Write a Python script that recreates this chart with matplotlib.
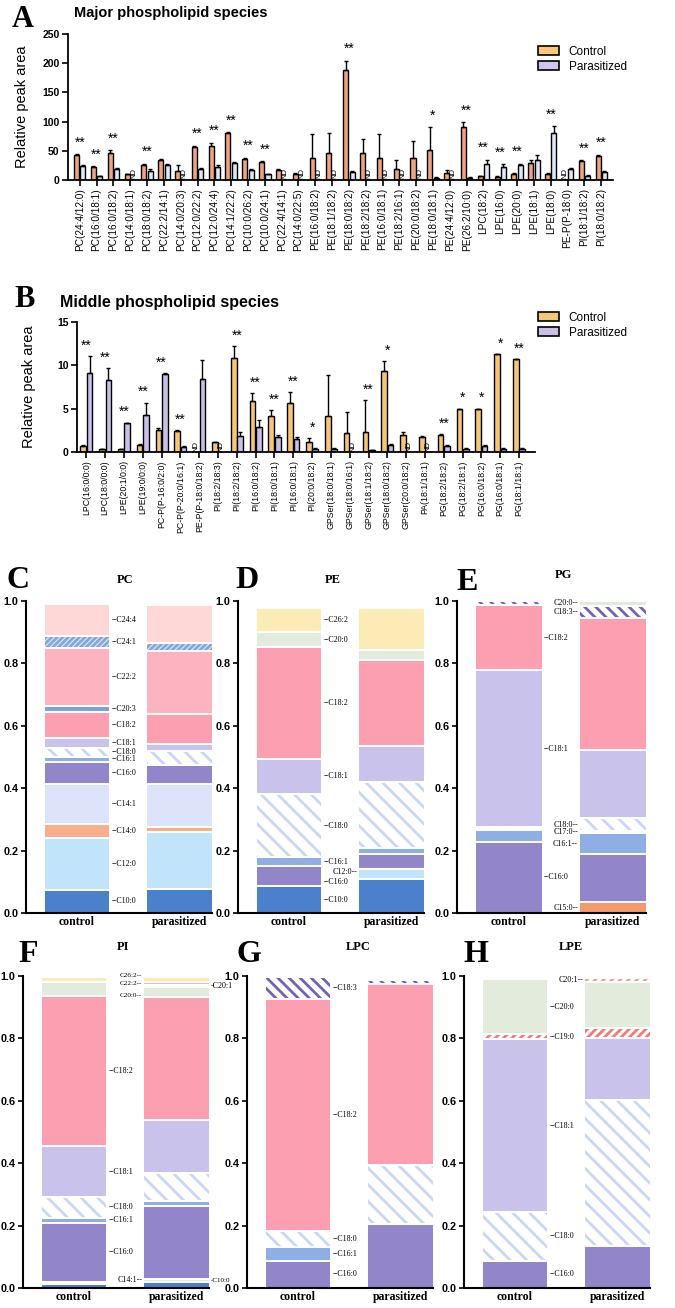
import numpy as np
import matplotlib.pyplot as plt
from matplotlib.patches import Patch

plt.rcParams['font.family'] = ['Liberation Sans', 'DejaVu Sans']
plt.rcParams['hatch.linewidth'] = 2.0

W, H = 675, 1308
nan = np.nan

# ---------------- panel A: major species ----------------
a_labels = ['PC(24:4/12:0)', 'PC(16:0/18:1)', 'PC(16:0/18:2)', 'PC(14:0/18:1)', 'PC(18:0/18:2)',
            'PC(22:2/14:1)', 'PC(14:0/20:3)', 'PC(12:0/22:2)', 'PC(12:0/24:4)', 'PC(14:1/22:2)',
            'PC(10:0/26:2)', 'PC(10:0/24:1)', 'PC(22:4/14:1)', 'PC(14:0/22:5)', 'PE(16:0/18:2)',
            'PE(18:1/18:2)', 'PE(18:0/18:2)', 'PE(18:2/18:2)', 'PE(16:0/18:1)', 'PE(18:2/16:1)',
            'PE(20:0/18:2)', 'PE(18:0/18:1)', 'PE(24:4/12:0)', 'PE(26:2/10:0)', 'LPC(18:2)',
            'LPE(16:0)', 'LPE(20:0)', 'LPE(18:1)', 'LPE(18:0)', 'PE-P(P-18:0)', 'PI(18:1/18:2)',
            'PI(18:0/18:2)']
a_ctrl = [42, 22, 47, 10, 26, 34, 16, 57, 58, 80, 36, 30, 17, 11, 38, 46, 188, 47, 37, 19,
          37, 51, 12, 91, 6, 5, 11, 29, 10, nan, 32, 41]
a_ctrl_err = [2, 2, 4, 1, 2, 2, 9, 2, 6, 2, 2, 2, 1, 1, 40, 35, 16, 24, 41, 15,
              29, 39, 5, 8, 1, 1, 1, 6, 2, 0, 2, 2]
a_para = [24, 6, 18, nan, 16, 25, nan, 19, 23, 29, 17, 10, nan, nan, nan, nan, 13, nan, nan, nan,
          nan, 4, nan, 4, 27, 22, 25, 35, 81, 19, 7, 14]
a_para_err = [2, 1, 2, 0, 2, 2, 0, 2, 2, 1, 2, 1, 0, 0, 0, 0, 2, 0, 0, 0,
              0, 1, 0, 1, 8, 5, 3, 7, 11, 2, 1, 2]
a_sig = ['**', '**', '**', '', '**', '', '', '**', '**', '**', '**', '**', '', '', '', '',
         '**', '', '', '', '', '*', '', '**', '**', '**', '**', '', '**', '', '**', '**']

# ---------------- panel B: middle species ----------------
b_labels = ['LPC(16:0/0:0)', 'LPC(18:0/0:0)', 'LPE(20:1/0:0)', 'LPE(19:0/0:0)', 'PC-P(P-16:0/2:0)',
            'PC-P(P-20:0/16:1)', 'PE-P(P-18:0/18:2)', 'PI(18:2/18:3)', 'PI(18:2/18:2)',
            'PI(16:0/18:2)', 'PI(18:0/18:1)', 'PI(16:0/18:1)', 'PI(20:0/18:2)', 'GPSer(18:0/18:1)',
            'GPSer(18:0/16:1)', 'GPSer(18:1/18:2)', 'GPSer(18:0/18:2)', 'GPSer(20:0/18:2)',
            'PA(18:1/18:1)', 'PG(18:2/18:2)', 'PG(18:2/18:1)', 'PG(16:0/18:2)', 'PG(16:0/18:1)',
            'PG(18:1/18:1)']
b_ctrl = [0.7, 0.3, 0.3, 0.8, 2.5, 2.4, nan, 1.1, 10.8, 5.9, 4.2, 5.7, 1.1, 4.2, 2.2, 2.3,
          9.3, 2.0, 1.7, 2.0, 5.0, 5.0, 11.3, 10.7]
b_ctrl_err = [0.1, 0.05, 0.05, 0.15, 0.3, 0.15, 0, 0.1, 1.4, 0.9, 0.6, 1.2, 0.5, 4.7, 2.4, 3.7,
              1.2, 0.3, 0.1, 0.1, 0, 0, 0, 0]
b_para = [9.1, 8.3, 3.3, 4.3, 9.0, 0.6, 8.4, nan, 1.9, 2.9, 1.7, 1.5, 0.4, 0.4, nan, 0.2,
          0.85, nan, nan, 0.7, 0.4, 0.7, 0.4, 0.4]
b_para_err = [2.0, 1.4, 0.1, 1.4, 0.1, 0.05, 2.2, 0, 0.4, 0.8, 0.3, 0.2, 0.05, 0.05, 0, 0.05,
              0.1, 0, 0, 0.1, 0.05, 0.1, 0.05, 0.05]
b_sig = ['**', '**', '**', '**', '**', '**', '', '', '**', '**', '**', '**', '*', '', '', '**',
         '*', '', '', '**', '*', '*', '*', '**']

# ---------------- panels C-H: fatty acid composition ----------------
pc_species = ['C10:0', 'C12:0', 'C14:0', 'C14:1', 'C16:0', 'C16:1', 'C18:0', 'C18:1', 'C18:2',
              'C20:3', 'C22:2', 'C24:1', 'C24:4']
pc_ctrl = [0.074, 0.167, 0.043, 0.129, 0.071, 0.016, 0.030, 0.032, 0.082, 0.018, 0.188, 0.038, 0.102]
pc_para = [0.078, 0.182, 0.016, 0.138, 0.061, 0.0, 0.045, 0.023, 0.094, 0.0, 0.203, 0.026, 0.120]

pe_species = ['C10:0', 'C12:0', 'C16:0', 'C16:1', 'C18:0', 'C18:1', 'C18:2', 'C20:0', 'C26:2']
pe_ctrl = [0.085, 0.0, 0.065, 0.028, 0.202, 0.115, 0.358, 0.047, 0.079]
pe_para = [0.110, 0.030, 0.050, 0.017, 0.214, 0.113, 0.278, 0.032, 0.132]

pg_species = ['C15:0', 'C16:0', 'C16:1', 'C17:0', 'C18:0', 'C18:1', 'C18:2', 'C18:3', 'C20:0']
pg_ctrl = [0.0, 0.229, 0.037, 0.004, 0.006, 0.502, 0.210, 0.011, 0.0]
pg_para = [0.035, 0.153, 0.067, 0.008, 0.040, 0.221, 0.420, 0.041, 0.015]

pi_species = ['C10:0', 'C14:1', 'C16:0', 'C16:1', 'C18:0', 'C18:1', 'C18:2', 'C20:0', 'C20:1',
              'C22:2', 'C26:2']
pi_ctrl = [0.014, 0.006, 0.188, 0.017, 0.067, 0.162, 0.481, 0.045, 0.0, 0.0, 0.018]
pi_para = [0.020, 0.010, 0.233, 0.016, 0.088, 0.171, 0.396, 0.030, 0.008, 0.010, 0.016]

lpc_species = ['C16:0', 'C16:1', 'C18:0', 'C18:2', 'C18:3']
lpc_ctrl = [0.087, 0.045, 0.050, 0.745, 0.070]
lpc_para = [0.205, 0.0, 0.190, 0.580, 0.012]

lpe_species = ['C16:0', 'C18:0', 'C18:1', 'C19:0', 'C20:0', 'C20:1']
lpe_ctrl = [0.088, 0.155, 0.555, 0.015, 0.177, 0.0]
lpe_para = [0.134, 0.468, 0.200, 0.030, 0.148, 0.014]

fa_colors = {'C10:0': '#4a80cc', 'C12:0': '#c2e4fb', 'C14:0': '#f9ae8c', 'C14:1': '#dde3f8',
             'C15:0': '#f59a6a', 'C16:0': '#9385c9', 'C16:1': '#8eafe3', 'C17:0': '#fbd0d0',
             'C18:0': '#c9d7f4', 'C18:1': '#c9c3eb', 'C18:2': '#fb9fb1', 'C18:3': '#7462b4',
             'C19:0': '#f07a7a', 'C20:0': '#e3ecdc', 'C20:1': '#f5a27e', 'C20:3': '#7aa2dd',
             'C22:2': '#fdb3c0', 'C24:1': '#86a7dc', 'C24:4': '#fdd8d6', 'C26:2': '#fdebb5'}
fa_hatch = {'C18:0': '\\\\', 'C24:1': '//////', 'C18:3': '\\\\\\', 'C19:0': '////', 'C20:1': '////'}
fa_hatch_bg = {'C24:1': '#dae5f7'}

fig = plt.figure(figsize=(W / 100, H / 100), dpi=100)


def px_axes(l, t, r, b):
    return fig.add_axes([l / W, 1 - b / H, (r - l) / W, (b - t) / H])


def ftext(x, y, s, **kw):
    fig.text(x / W, 1 - y / H, s, **kw)


def grouped(ax, labels, ctrl, cerr, para, perr, sig, c_col, p_col, off, w, ymax, step, star_pad, nd_pad):
    x = np.arange(len(labels))
    ctrl, cerr, para, perr = map(np.asarray, (ctrl, cerr, para, perr))
    for vals, err, sgn, col in [(ctrl, cerr, -1, c_col), (para, perr, 1, p_col)]:
        m = ~np.isnan(vals)
        ax.bar(x[m] + sgn * off, vals[m], w, color=col, edgecolor='black', linewidth=1.0, zorder=2)
        ax.errorbar(x[m] + sgn * off, vals[m], yerr=[np.zeros(m.sum()), err[m]], fmt='none',
                    ecolor='black', elinewidth=1.0, capsize=1.6, capthick=1.0, zorder=3)
        for i in x[~m]:
            ax.text(i + sgn * off, nd_pad, 'ND', rotation=90, fontsize=5.5, ha='center', va='bottom')
    for i, s in enumerate(sig):
        if s:
            top = np.nanmax([ctrl[i] + cerr[i], para[i] + perr[i]])
            ax.text(i, top + star_pad, s, ha='center', va='bottom', fontsize=10)
    ax.set_xlim(-0.7, len(labels) - 0.3)
    ax.set_ylim(0, ymax)
    ax.set_yticks(np.arange(0, ymax + 0.01, step))
    ax.set_xticks(x)
    ax.set_xticklabels(labels, rotation=90, fontsize=7.2)
    for t in ax.get_yticklabels():
        t.set_fontweight('bold')
        t.set_fontsize(7.5)
    ax.spines[['top', 'right']].set_visible(False)
    ax.spines[['left', 'bottom']].set_linewidth(1.3)
    ax.tick_params(axis='both', direction='out', length=4, width=1.2, pad=2)


# panel A
axA = px_axes(68, 34, 613, 180)
grouped(axA, a_labels, a_ctrl, a_ctrl_err, a_para, a_para_err, a_sig,
        '#f0a47e', '#dfe7f4', 0.19, 0.3, 250, 50, 8, 1)
axA.set_xlim(-0.7, 31.7)
axA.set_ylabel('Relative peak area', fontsize=10.5, labelpad=10)
ftext(12, 27, 'A', fontsize=22, fontweight='bold', family='Liberation Serif')
ftext(74, 13, 'Major phospholipid species', fontsize=10.5, fontweight='bold', va='center')
fig.legend(handles=[Patch(facecolor='#f7c77e', edgecolor='black', linewidth=1.2, label='Control'),
                    Patch(facecolor='#cfc6ea', edgecolor='black', linewidth=1.2, label='Parasitized')],
           loc='upper left', bbox_to_anchor=(532 / W, 1 - 40 / H), frameon=False, fontsize=8.5,
           handlelength=1.8, handleheight=0.8, labelspacing=0.25, borderpad=0, handletextpad=0.8)

# panel B
axB = px_axes(77, 322, 535, 452)
grouped(axB, b_labels, b_ctrl, b_ctrl_err, b_para, b_para_err, b_sig,
        '#f6c676', '#c9c0e8', 0.17, 0.3, 15, 5, 0.4, 0.05)
axB.set_xlim(-0.5, 23.85)
axB.tick_params(axis='x', labelsize=6.3)
axB.set_ylabel('Relative peak area', fontsize=10.5, labelpad=15)
ftext(14, 307, 'B', fontsize=22, fontweight='bold', family='Liberation Serif')
ftext(60, 302, 'Middle phospholipid species', fontsize=11.5, fontweight='bold', va='center')
fig.legend(handles=[Patch(facecolor='#f6c676', edgecolor='black', linewidth=1.2, label='Control'),
                    Patch(facecolor='#c9c0e8', edgecolor='black', linewidth=1.2, label='Parasitized')],
           loc='upper left', bbox_to_anchor=(532 / W, 1 - 306 / H), frameon=False, fontsize=8.5,
           handlelength=1.8, handleheight=0.8, labelspacing=0.25, borderpad=0, handletextpad=0.8)


def stacked(ax, species, ctrl, para, labels, title, letter, title_x, title_y, letter_x, letter_y):
    bw = 0.65
    bases = []
    for j, vals in enumerate([ctrl, para]):
        vals = np.asarray(vals)
        base = np.concatenate([[0], np.cumsum(vals)[:-1]])
        bases.append(base)
        for sp, v, b0 in zip(species, vals, base):
            if v <= 0:
                continue
            if sp in fa_hatch:
                ax.bar(j, v, bw, bottom=b0, color=fa_hatch_bg.get(sp, 'white'),
                       edgecolor=fa_colors[sp], hatch=fa_hatch[sp], linewidth=0, clip_on=False)
                ax.bar(j, v, bw, bottom=b0, fill=False, edgecolor='white', linewidth=1.4, clip_on=False)
            else:
                ax.bar(j, v, bw, bottom=b0, color=fa_colors[sp], edgecolor='white',
                       linewidth=1.4, clip_on=False)
    for item in labels:
        sp, side = item[0], item[1]
        dy = item[2] if len(item) > 2 else 0
        fs = item[3] if len(item) > 3 else 5.8
        k = species.index(sp)
        lkw = dict(va='center', fontsize=fs, family='Liberation Serif')
        if side == 'c':
            y = bases[0][k] + ctrl[k] / 2 + dy
            ax.text(bw / 2 + 0.01, y, '--' + sp, ha='left', **lkw)
        elif side == 'p':
            y = bases[1][k] + para[k] / 2 + dy
            ax.text(1 - bw / 2 - 0.01, y, sp + '--', ha='right', **lkw)
        else:
            y = bases[1][k] + para[k] / 2 + dy
            ax.text(1 + bw / 2 + 0.01, y, '-' + sp, ha='left', **lkw)
    ax.set_xlim(-0.5, 1.32)
    ax.set_ylim(0, 1.0)
    ax.set_yticks(np.arange(0, 1.01, 0.2))
    ax.set_yticklabels(['%.1f' % v for v in np.arange(0, 1.01, 0.2)], fontsize=7.8, fontweight='bold')
    ax.set_xticks([0, 1])
    ax.set_xticklabels(['control', 'parasitized'], fontsize=8.5, fontweight='bold',
                       family='Liberation Serif')
    ax.tick_params(axis='x', length=0, pad=2)
    ax.tick_params(axis='y', direction='out', length=3.5, width=1.2, pad=2)
    ax.spines[['top', 'right']].set_visible(False)
    ax.spines[['left', 'bottom']].set_linewidth(1.5)
    ftext(title_x, title_y, title, fontsize=9, fontweight='bold', family='Liberation Serif',
          ha='center', va='center')
    ftext(letter_x, letter_y, letter, fontsize=23, fontweight='bold', family='Liberation Serif')


c_lab = [(s, 'c') for s in pc_species]
d_lab = [('C26:2', 'c'), ('C20:0', 'c'), ('C18:2', 'c'), ('C18:1', 'c'), ('C18:0', 'c'),
         ('C16:1', 'c'), ('C16:0', 'c', -0.017), ('C12:0', 'p', 0.008), ('C10:0', 'c')]
e_lab = [('C18:2', 'c'), ('C18:1', 'c'), ('C16:0', 'c'), ('C20:0', 'p'), ('C18:3', 'p'),
         ('C18:0', 'p'), ('C17:0', 'p'), ('C16:1', 'p'), ('C15:0', 'p')]
f_lab = [('C18:2', 'c'), ('C18:1', 'c'), ('C18:0', 'c'), ('C16:1', 'c'), ('C16:0', 'c'),
         ('C26:2', 'p', 0.012, 5.2), ('C22:2', 'p', -0.001, 5.2), ('C20:0', 'p', -0.01, 5.2),
         ('C14:1', 'p'), ('C20:1', 'r'), ('C10:0', 'r', 0.014, 5.0)]
g_lab = [('C18:3', 'c'), ('C18:2', 'c'), ('C18:0', 'c'), ('C16:1', 'c'), ('C16:0', 'c')]
h_lab = [('C20:1', 'p'), ('C20:0', 'c'), ('C19:0', 'c'), ('C18:1', 'c'), ('C18:0', 'c'),
         ('C16:0', 'c')]

axC = px_axes(26, 601, 212, 913)
stacked(axC, pc_species, pc_ctrl, pc_para, c_lab, 'PC', 'C', 125, 580, 6, 588)
axD = px_axes(238, 601, 424, 913)
stacked(axD, pe_species, pe_ctrl, pe_para, d_lab, 'PE', 'D', 333, 580, 235, 588)
axE = px_axes(457, 601, 646, 913)
stacked(axE, pg_species, pg_ctrl, pg_para, e_lab, 'PG', 'E', 563, 575, 456, 590)
axF = px_axes(23, 976, 209, 1288)
stacked(axF, pi_species, pi_ctrl, pi_para, f_lab, 'PI', 'F', 123, 947, 18, 962)
axG = px_axes(247, 976, 433, 1288)
stacked(axG, lpc_species, lpc_ctrl, lpc_para, g_lab, 'LPC', 'G', 358, 947, 236, 962)
axH = px_axes(464, 976, 650, 1288)
stacked(axH, lpe_species, lpe_ctrl, lpe_para, h_lab, 'LPE', 'H', 571, 947, 464, 962)

fig.savefig('out.png', dpi=100)
